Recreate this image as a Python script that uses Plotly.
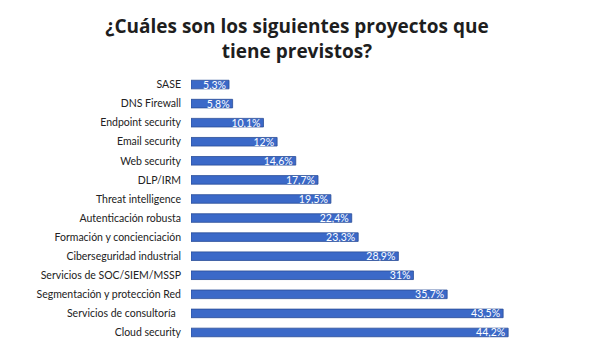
import plotly.graph_objects as go

categories = [
    "SASE", "DNS Firewall", "Endpoint security", "Email security", "Web security",
    "DLP/IRM", "Threat intelligence", "Autenticación robusta",
    "Formación y concienciación", "Ciberseguridad industrial",
    "Servicios de SOC/SIEM/MSSP", "Segmentación y protección Red",
    "Servicios de consultoría\u00a0\u00a0", "Cloud security",
]
values = [5.3, 5.8, 10.1, 12, 14.6, 17.7, 19.5, 22.4, 23.3, 28.9, 31, 35.7, 43.5, 44.2]

labels = [f"{v:g}".replace(".", ",") + "%" for v in values]

fig = go.Figure(
    go.Bar(
        x=values,
        y=categories,
        orientation="h",
        text=labels,
        textposition="inside",
        insidetextanchor="end",
        constraintext="none",
        textfont=dict(family="Lato", size=10.5, color="white"),
        marker=dict(color="#3b69c8", line=dict(color="#2a4c97", width=0.8)),
        width=0.45,
        hoverinfo="skip",
    )
)

fig.update_layout(
    width=600,
    height=350,
    paper_bgcolor="white",
    plot_bgcolor="white",
    margin=dict(l=191, r=0, t=75, b=8),
    showlegend=False,
    title=dict(
        text="¿Cuáles son los siguientes proyectos que<br>tiene previstos?",
        x=0.495,
        xanchor="center",
        yref="container",
        y=0.905,
        yanchor="middle",
        font=dict(family="Open Sans", size=19, color="#1e1e1e", weight="bold"),
    ),
    xaxis=dict(
        range=[0, 57],
        visible=False,
        showgrid=False,
        zeroline=False,
    ),
    yaxis=dict(
        autorange="reversed",
        showgrid=False,
        zeroline=False,
        showline=False,
        ticks="",
        ticklabelstandoff=9,
        tickfont=dict(family="Lato", size=10.5, color="#222222"),
    ),
)

fig.write_html("out.html")
